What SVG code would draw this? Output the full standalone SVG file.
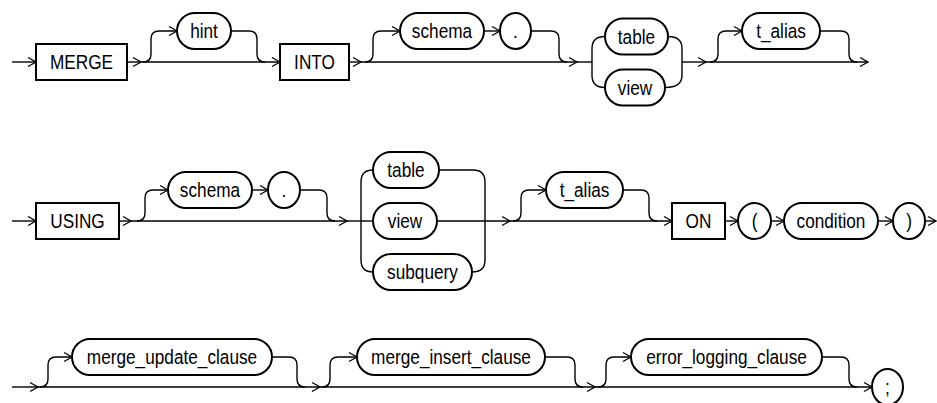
<svg xmlns="http://www.w3.org/2000/svg" width="937" height="403" viewBox="0 0 937 403">
<defs>
<marker id="arr" markerUnits="userSpaceOnUse" markerWidth="10" markerHeight="10" refX="8" refY="4.5" orient="auto" overflow="visible">
<path d="M0,0 L8,4.5 L0,9" fill="none" stroke="#000" stroke-width="1.3"/>
</marker>
<style>
.box{fill:#fff;stroke:#000;stroke-width:2}
.pill{fill:#fff;stroke:#000;stroke-width:2}
.ln{fill:none;stroke:#000;stroke-width:1.4}
.a{marker-end:url(#arr)}
text{font-family:"Liberation Sans",Arial,sans-serif;font-size:20.5px;fill:#000;text-anchor:middle}
</style>
</defs>
<rect width="937" height="403" fill="#fff"/>
<g id="connectors">
<path class="ln a" d="M12,62 L36,62"/>
<path class="ln a" d="M127,62 L141,62"/>
<path class="ln a" d="M141,62 L280,62"/>
<path class="ln a" d="M143,62 Q151,62 151,54 L151,39 Q151,31 159,31 L177,31"/>
<path class="ln" d="M231,31 L249,31 Q257,31 257,39 L257,54 Q257,62 265,62"/>
<path class="ln a" d="M349,62 L361,62"/>
<path class="ln a" d="M361,62 L577,62"/>
<path class="ln" d="M577,62 L592,62"/>
<path class="ln a" d="M365,62 Q373,62 373,54 L373,39 Q373,31 381,31 L400,31"/>
<path class="ln a" d="M484,31 L500,31"/>
<path class="ln" d="M531,31 L551,31 Q559,31 559,39 L559,54 Q559,62 567,62"/>
<path class="ln" d="M605,36.5 Q592,36.5 592,48.5 L592,75.5 Q592,87.5 605,87.5"/>
<path class="ln" d="M668,36.5 Q682,36.5 682,48.5 L682,75.5 Q682,87.5 665,87.5"/>
<path class="ln a" d="M682,62 L706,62"/>
<path class="ln a" d="M706,62 L868,62"/>
<path class="ln a" d="M710,62 Q718,62 718,54 L718,39 Q718,31 726,31 L742,31"/>
<path class="ln" d="M820,31 L841,31 Q849,31 849,39 L849,54 Q849,62 857,62"/>
<path class="ln a" d="M12,221 L36,221"/>
<path class="ln a" d="M119,221 L131,221"/>
<path class="ln a" d="M131,221 L347,221"/>
<path class="ln" d="M347,221 L373,221"/>
<path class="ln a" d="M137,221 Q145,221 145,213 L145,198 Q145,190 153,190 L168,190"/>
<path class="ln a" d="M252,190 L268,190"/>
<path class="ln" d="M300,190 L319,190 Q327,190 327,198 L327,213 Q327,221 335,221"/>
<path class="ln" d="M373,170 Q361,170 361,182 L361,260 Q361,272 373,272"/>
<path class="ln" d="M439,170 L473,170 Q485,170 485,182 L485,260 Q485,272 472,272"/>
<path class="ln a" d="M437,221 L510,221"/>
<path class="ln a" d="M510,221 L672,221"/>
<path class="ln a" d="M513,221 Q521,221 521,213 L521,198 Q521,190 529,190 L546,190"/>
<path class="ln" d="M623,190 L641,190 Q649,190 649,198 L649,213 Q649,221 657,221"/>
<path class="ln a" d="M725,221 L738,221"/>
<path class="ln a" d="M771,221 L784,221"/>
<path class="ln a" d="M878,221 L893,221"/>
<path class="ln a" d="M925,221 L936,221"/>
<path class="ln a" d="M12,387 L38,387" stroke-width="2"/>
<path class="ln a" d="M38,387 L320,387"/>
<path class="ln a" d="M40,387 Q48,387 48,379 L48,365 Q48,357 56,357 L72,357"/>
<path class="ln" d="M272,357 L289,357 Q297,357 297,365 L297,379 Q297,387 305,387"/>
<path class="ln a" d="M320,387 L595,387"/>
<path class="ln a" d="M322,387 Q330,387 330,379 L330,365 Q330,357 338,357 L357,357"/>
<path class="ln" d="M545,357 L567,357 Q575,357 575,365 L575,379 Q575,387 583,387"/>
<path class="ln a" d="M595,387 L872,387"/>
<path class="ln a" d="M598,387 Q606,387 606,379 L606,365 Q606,357 614,357 L631,357"/>
<path class="ln" d="M822,357 L841,357 Q849,357 849,365 L849,379 Q849,387 857,387"/>
</g>
<g id="n-merge"><rect class="box" x="36" y="44" width="91" height="36"/><text transform="translate(81.5,69) scale(0.84,1)">MERGE</text></g>
<g id="n-hint"><rect class="pill" x="177" y="13" width="54" height="36" rx="18"/><text transform="translate(204,38) scale(0.84,1)">hint</text></g>
<g id="n-into"><rect class="box" x="280" y="44" width="69" height="36"/><text transform="translate(314.5,69) scale(0.84,1)">INTO</text></g>
<g id="n-schema1"><rect class="pill" x="400" y="13" width="84" height="36" rx="18"/><text transform="translate(442,38) scale(0.84,1)">schema</text></g>
<g id="n-dot1"><ellipse class="pill" cx="515.5" cy="31" rx="15.5" ry="18"/><text transform="translate(515.5,38) scale(0.84,1)">.</text></g>
<g id="n-table1"><rect class="pill" x="605" y="18.5" width="63" height="36" rx="18"/><text transform="translate(636.5,43.5) scale(0.84,1)">table</text></g>
<g id="n-view1"><rect class="pill" x="605" y="69.5" width="60" height="36" rx="18"/><text transform="translate(635,94.5) scale(0.84,1)">view</text></g>
<g id="n-talias1"><rect class="pill" x="742" y="13" width="78" height="36" rx="18"/><text transform="translate(781,38) scale(0.84,1)">t_alias</text></g>
<g id="n-using"><rect class="box" x="36" y="203" width="83" height="36"/><text transform="translate(77.5,228) scale(0.84,1)">USING</text></g>
<g id="n-schema2"><rect class="pill" x="168" y="172" width="84" height="36" rx="18"/><text transform="translate(210,197) scale(0.84,1)">schema</text></g>
<g id="n-dot2"><ellipse class="pill" cx="284" cy="190" rx="16" ry="18"/><text transform="translate(284,197) scale(0.84,1)">.</text></g>
<g id="n-table2"><rect class="pill" x="373" y="152" width="66" height="36" rx="18"/><text transform="translate(406,177) scale(0.84,1)">table</text></g>
<g id="n-view2"><rect class="pill" x="373" y="203" width="64" height="36" rx="18"/><text transform="translate(405,228) scale(0.84,1)">view</text></g>
<g id="n-subquery"><rect class="pill" x="373" y="254" width="99" height="36" rx="18"/><text transform="translate(422.5,279) scale(0.84,1)">subquery</text></g>
<g id="n-talias2"><rect class="pill" x="546" y="172" width="77" height="36" rx="18"/><text transform="translate(584.5,197) scale(0.84,1)">t_alias</text></g>
<g id="n-on"><rect class="box" x="672" y="203" width="53" height="36"/><text transform="translate(698.5,228) scale(0.84,1)">ON</text></g>
<g id="n-lparen"><ellipse class="pill" cx="754.5" cy="221" rx="16.5" ry="18"/><text transform="translate(754.5,228) scale(0.84,1)">(</text></g>
<g id="n-condition"><rect class="pill" x="784" y="203" width="94" height="36" rx="18"/><text transform="translate(831,228) scale(0.84,1)">condition</text></g>
<g id="n-rparen"><ellipse class="pill" cx="909" cy="221" rx="16" ry="18"/><text transform="translate(909,228) scale(0.84,1)">)</text></g>
<g id="n-update"><rect class="pill" x="72" y="339" width="200" height="36" rx="18"/><text transform="translate(172,364) scale(0.84,1)">merge_update_clause</text></g>
<g id="n-insert"><rect class="pill" x="357" y="339" width="188" height="36" rx="18"/><text transform="translate(451,364) scale(0.84,1)">merge_insert_clause</text></g>
<g id="n-error"><rect class="pill" x="631" y="339" width="191" height="36" rx="18"/><text transform="translate(726.5,364) scale(0.84,1)">error_logging_clause</text></g>
<g id="n-semi"><ellipse class="pill" cx="887.5" cy="387" rx="15.5" ry="18"/><text transform="translate(887.5,394) scale(0.84,1)">;</text></g>
</svg>
